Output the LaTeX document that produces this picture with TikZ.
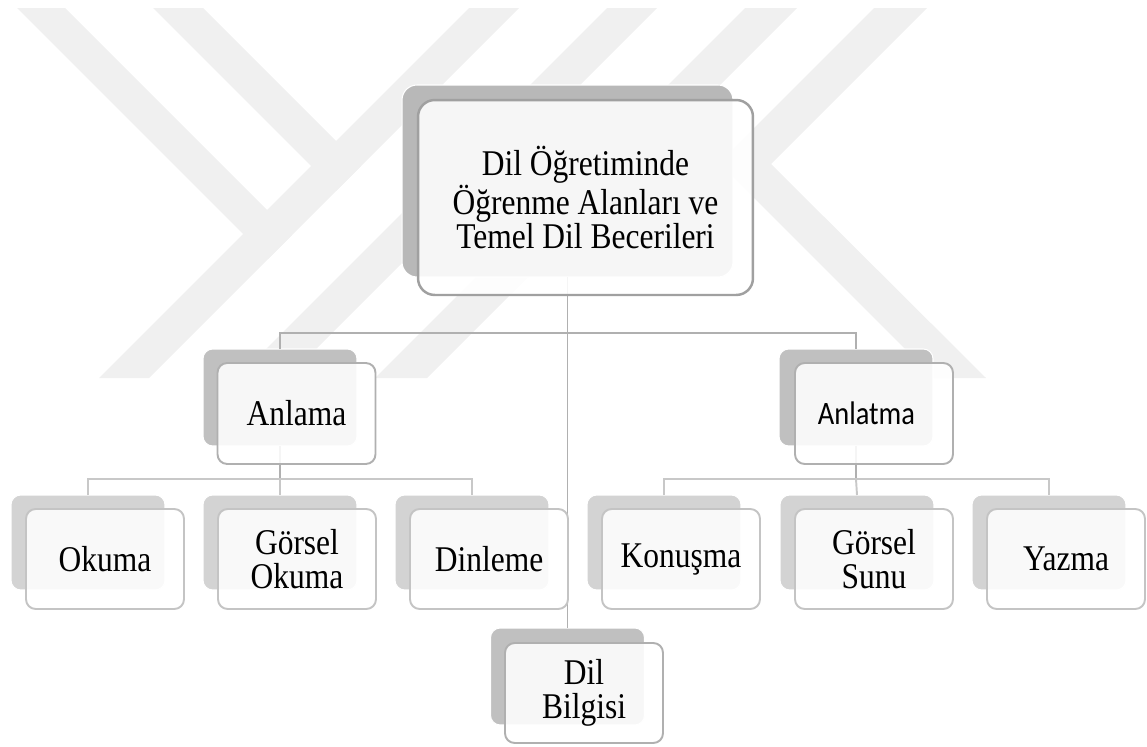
\documentclass[tikz,border=0pt]{standalone}
\usepackage{fontspec}
\setmainfont{Liberation Serif}[FakeStretch=0.87]
\newfontfamily\calib{Carlito}[FakeStretch=0.87]
\definecolor{wm}{HTML}{F0F0F0}
\definecolor{backA}{HTML}{B8B8B8}
\definecolor{backB}{HTML}{C0C0C0}
\definecolor{backC}{HTML}{D3D3D3}
\definecolor{edgeA}{HTML}{A0A0A0}
\definecolor{edgeB}{HTML}{B0B0B0}
\definecolor{edgeC}{HTML}{C4C4C4}
\definecolor{connA}{HTML}{B0B0B0}
\definecolor{connC}{HTML}{C8C8C8}
\begin{document}
\begin{tikzpicture}[x=0.02cm,y=-0.02cm,
  backbox/.style={rectangle, rounded corners=5.5pt, draw=white, line width=0.6pt, inner sep=0pt, outer sep=0pt},
  frontbox/.style={rectangle, rounded corners=5.5pt, fill=white, fill opacity=0.88, text opacity=1, line width=1.1pt, inner sep=0pt, outer sep=0pt, align=center},
  mainback/.style={backbox, fill=backA, rounded corners=8.5pt, minimum width=6.62cm, minimum height=3.84cm},
  mainfront/.style={frontbox, draw=edgeA, rounded corners=9.5pt, line width=1.4pt, minimum width=6.70cm, minimum height=3.90cm, font=\fontsize{20.6}{19.8}\selectfont},
  midback/.style={backbox, fill=backB, minimum width=3.08cm, minimum height=1.94cm},
  midfront/.style={frontbox, draw=edgeB, minimum width=3.16cm, minimum height=2.02cm, font=\fontsize{20.6}{19.3}\selectfont},
  leafback/.style={backbox, fill=backC, minimum width=3.08cm, minimum height=1.90cm},
  leaffront/.style={frontbox, draw=edgeC, minimum width=3.16cm, minimum height=2.00cm, font=\fontsize{20.6}{19.3}\selectfont},
  connA/.style={draw=connA, line width=1.1pt},
  connC/.style={draw=connC, line width=1.1pt}
]
\useasboundingbox (0,0) rectangle (1147,747);
% watermark
\fill[wm] (17,8) -- (65,8) -- (292,235) -- (268,259) -- cycle;
\fill[wm] (469,8) -- (519,8) -- (149,378) -- (99,378) -- cycle;
\fill[wm] (153,8) -- (203,8) -- (361,166) -- (336,191) -- cycle;
\fill[wm] (607,8) -- (657,8) -- (287,378) -- (237,378) -- cycle;
\fill[wm] (745,8) -- (797,8) -- (427,378) -- (375,378) -- cycle;
\fill[wm] (874,8) -- (927,8) -- (771,164) -- (986,378) -- (934,378) -- (719,163) -- cycle;

% back boxes
\node[mainback] (mainB) at (567.5,181) {};
\node[midback] (anlB) at (280,397.5) {};
\node[midback] (atmB) at (856,397.5) {};
\node[midback] (dbB) at (567.5,676.5) {};
\node[leafback] (okB) at (88,542.5) {};
\node[leafback] (goB) at (280,542.5) {};
\node[leafback] (dinB) at (472,542.5) {};
\node[leafback] (konB) at (664,542.5) {};
\node[leafback] (gsB) at (857,542.5) {};
\node[leafback] (yazB) at (1049,542.5) {};

% connectors
\coordinate (j1) at (567.5,333);
\coordinate (j2) at (280,479);
\coordinate (j3) at (856,479);
\draw[connA] (mainB.south) -- (dbB.north);
\draw[connA] (anlB.north) |- (j1) -| (atmB.north);
\draw[connA] (anlB.south) -- (j2);
\draw[connA] (atmB.south) -- (j3);
\draw[connC] (okB.north) |- (j2) -| (dinB.north);
\draw[connC] (j2) -- (goB.north);
\draw[connC] (konB.north) |- (j3) -| (yazB.north);
\draw[connC] (j3) -- (gsB.north);

% front boxes
\node[mainfront] (main) at (585.5,197.5) {Dil Öğretiminde\\Öğrenme Alanları ve\\Temel Dil Becerileri};
\node[midfront] (anl) at (296.5,413.5) {Anlama};
\node[midfront, font=\calib\fontsize{18.6}{19}\selectfont] (atm) at (874,413.5) {Anlatma\hspace*{0.3cm}};
\node[midfront, minimum height=2.00cm] (db) at (584,693) {Dil\\Bilgisi};
\node[leaffront] (ok) at (105,559) {Okuma};
\node[leaffront] (go) at (297,559) {Görsel\\Okuma};
\node[leaffront] (din) at (489,559) {Dinleme};
\node[leaffront] (kon) at (681,559) {Konuşma};
\node[leaffront] (gs) at (874,559) {Görsel\\Sunu};
\node[leaffront] (yaz) at (1066,559) {Yazma};
\end{tikzpicture}
\end{document}
